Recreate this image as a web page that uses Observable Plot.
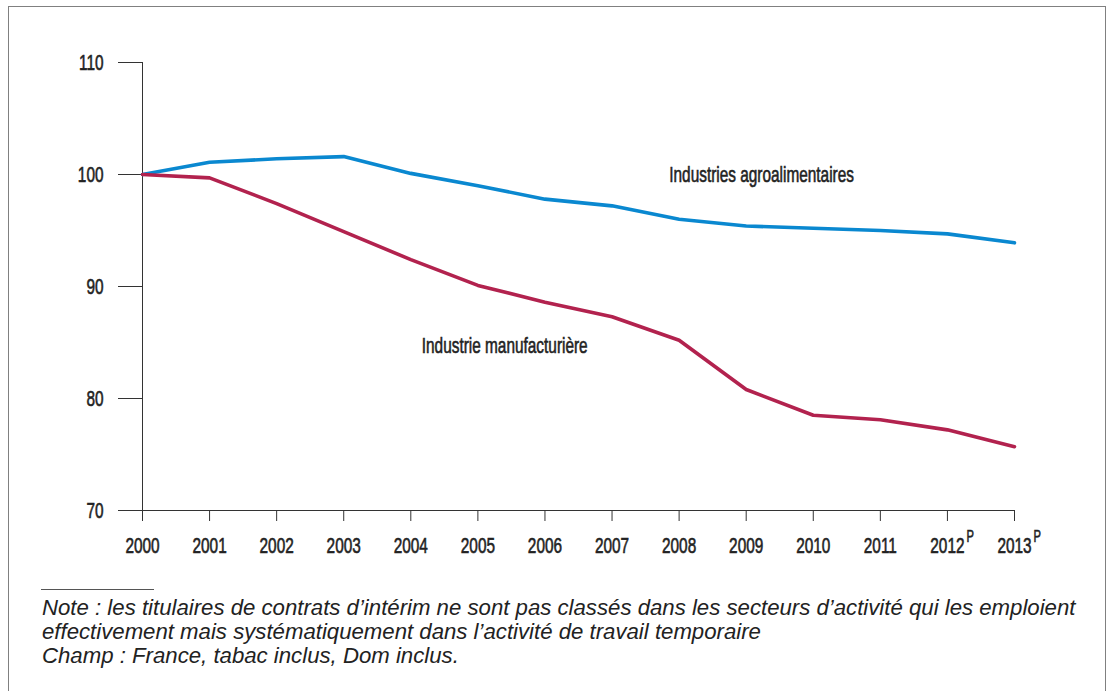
<!DOCTYPE html>
<html><head><meta charset="utf-8">
<script src="https://cdn.jsdelivr.net/npm/d3@7"></script>
<script src="https://cdn.jsdelivr.net/npm/@observablehq/plot@0.6"></script>
<style>
html,body{margin:0;padding:0;background:#fff;}
body{width:1111px;height:691px;position:relative;overflow:hidden;}
#frame{position:absolute;left:8px;top:6px;width:1098px;height:760px;border:1.5px solid #808080;box-sizing:border-box;}
#chart{position:absolute;left:0;top:0;}
#chart svg text{stroke:#222;stroke-width:0.6px;paint-order:stroke;}
#rule{position:absolute;left:41px;top:589px;width:113px;border-top:1px solid #555;}
#note{position:absolute;left:42px;top:596px;font-family:"Liberation Sans",Arial,sans-serif;font-style:italic;font-size:22.2px;line-height:23.8px;color:#222;white-space:nowrap;}
</style></head><body>
<div id="frame"></div><div id="chart"></div><div id="rule"></div>
<div id="note">
<div>Note : les titulaires de contrats d’intérim ne sont pas classés dans les secteurs d’activité qui les emploient</div>
<div>effectivement mais systématiquement dans l’activité de travail temporaire</div>
<div>Champ : France, tabac inclus, Dom inclus.</div>
</div>
<script>
const years = [2000,2001,2002,2003,2004,2005,2006,2007,2008,2009,2010,2011,2012,2013];
const yearLabels = ["2000","2001","2002","2003","2004","2005","2006","2007","2008","2009","2010","2011","2012","2013"];
const provisionalFlags = ["","","","","","","","","","","","","P","P"];
const agroValues = [100, 101.1, 101.4, 101.6, 100.1, 99.0, 97.8, 97.2, 96.0, 95.4, 95.2, 95.0, 94.7, 93.9];
const manufValues = [100, 99.7, 97.4, 94.9, 92.4, 90.1, 88.6, 87.3, 85.2, 80.8, 78.5, 78.1, 77.2, 75.7];
const seriesNames = ["Industries agroalimentaires", "Industrie manufacturière"];
const seriesColors = ["#0a88d0", "#b2224e"];
const yTicks = [70, 80, 90, 100, 110];

const rows = years.flatMap((yr, i) => [
  {year: yr, value: agroValues[i], series: seriesNames[0]},
  {year: yr, value: manufValues[i], series: seriesNames[1]}
]);
const provRows = years.map((yr, i) => ({year: yr, flag: provisionalFlags[i]})).filter(d => d.flag);

const plot = Plot.plot({
  width: 1111, height: 575,
  marginLeft: 142, marginRight: 97, marginTop: 62, marginBottom: 65,
  style: {fontFamily: '"Liberation Sans", Arial, sans-serif', fontSize: "22px", color: "#222", background: "transparent"},
  x: {type: "linear", domain: [2000, 2013]},
  y: {domain: [70, 110]},
  color: {domain: seriesNames, range: seriesColors},
  marks: [
    Plot.ruleX([2000], {y1: 70, y2: 110, stroke: "#333", strokeWidth: 1}),
    Plot.ruleY([70], {x1: 2000, x2: 2013, stroke: "#333", strokeWidth: 1}),
    Plot.axisY({ticks: yTicks, tickSize: 24, tickPadding: 15, tickFormat: d => String(d), label: null, stroke: "#333", fill: "#222", fontSize: 22}),
    Plot.axisX({ticks: years, tickSize: 11, tickPadding: 16, tickFormat: d => yearLabels[years.indexOf(d)], label: null, stroke: "#333", fill: "#222", fontSize: 22}),
    Plot.text(provRows, {x: "year", y: () => 70, text: "flag", dx: 19, dy: 31, textAnchor: "start", lineAnchor: "bottom", fontSize: 16, fill: "#222"}),
    Plot.line(rows, {x: "year", y: "value", stroke: "series", strokeWidth: 3.6, strokeLinejoin: "round", strokeLinecap: "round"}),
    Plot.text([seriesNames[0]], {x: () => 2009.23, y: () => 100.0, text: d => d, fill: "#222", lineAnchor: "middle", fontSize: 22}),
    Plot.text([seriesNames[1]], {x: () => 2005.4, y: () => 84.73, text: d => d, fill: "#222", lineAnchor: "middle", fontSize: 22})
  ]
});
document.getElementById("chart").append(plot);
// condense the glyphs horizontally around each text's anchor point
const K = 0.70;
plot.querySelectorAll("text").forEach(t => {
  const xAttr = t.getAttribute("x");
  const x = xAttr && !/em/.test(xAttr) ? parseFloat(xAttr) || 0 : 0;
  const dxAttr = t.getAttribute("dx");
  const dx = dxAttr && !/em/.test(dxAttr) ? parseFloat(dxAttr) || 0 : 0;
  if (x) t.removeAttribute("x");
  if (dx) t.removeAttribute("dx");
  const tr = t.getAttribute("transform") || "";
  t.setAttribute("transform", `${tr} translate(${x + dx},0) scale(${K},1)`);
});
</script>
</body></html>
